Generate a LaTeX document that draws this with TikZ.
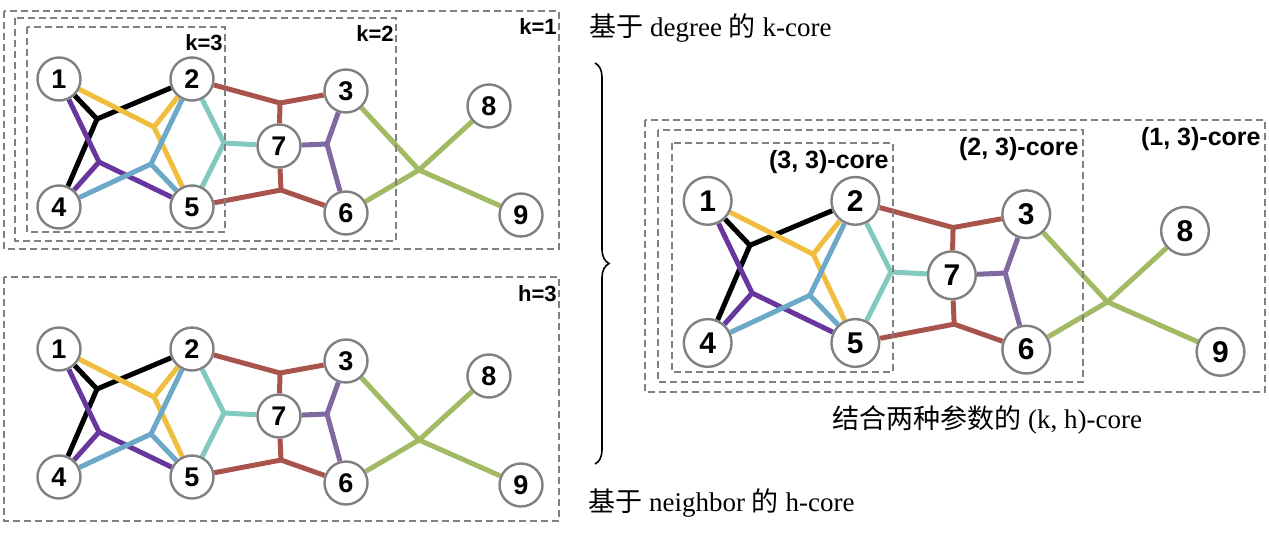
\documentclass[tikz,border=0pt]{standalone}
\usepackage{fontspec}
\setmainfont{Liberation Serif}
\newfontfamily\cjk{Noto Sans CJK SC}
\newfontfamily\arial{Liberation Sans}
\usetikzlibrary{backgrounds,decorations.pathreplacing}
\definecolor{vgray}{RGB}{128,128,128}
\definecolor{hyellow}{RGB}{240,190,62}
\definecolor{hpurple}{RGB}{104,54,156}
\definecolor{hblue}{RGB}{108,168,200}
\definecolor{hteal}{RGB}{130,202,190}
\definecolor{hred}{RGB}{168,84,76}
\definecolor{hviolet}{RGB}{128,104,160}
\definecolor{hgreen}{RGB}{162,186,100}
\tikzset{
  vtx/.style={circle,draw=vgray,line width=1.2pt,fill=white,minimum size=21.5pt,inner sep=0pt,
    font=\arial\bfseries\fontsize{13.5}{12}\selectfont},
  hedge/.style={line width=2.5pt,draw=#1},
  corebox/.style={draw=vgray,line width=0.9pt,dash pattern=on 3.5pt off 2pt},
  corelab/.style={anchor=east,inner sep=0pt,font=\arial\bfseries\fontsize{#1}{#1}\selectfont},
  corelab/.default=11,
  caption/.style={anchor=west,inner sep=0pt,font=\fontsize{13.5}{16}\selectfont},
  bracket/.style={decorate,decoration={brace,amplitude=7pt},line width=0.8pt},
}
% one copy of the hypergraph, node names get prefix #1
\newcommand{\hgraph}[1]{%
  \foreach \n/\x/\y in {1/59/79,2/192/79,3/346/91,4/59/207,5/192/207,
                        6/346/213,7/279/146,8/489/106,9/521/215}
    \node[vtx] (#1\n) at (\x,\y) {\n};
  \foreach \h/\x/\y in {k/97/119,y/154/127,p/99/162,b/151/164,t/224/143,
                        r/280/103,s/281/190,v/327/144,g/419/170}
    \coordinate (#1h\h) at (\x,\y);
  \begin{scope}[on background layer]
    \foreach \c/\h/\ends in {black/k/{1,2,4},hyellow/y/{1,2,5},hpurple/p/{1,4,5},
                             hblue/b/{2,4,5},hteal/t/{2,5,7},hred/r/{2,3,7},
                             hred/s/{5,6,7},hviolet/v/{3,6,7},hgreen/g/{3,6,8,9}}
      \foreach \e in \ends
        \draw[hedge=\c] (#1h\h) -- (#1\e);
  \end{scope}
}

\begin{document}
\begin{tikzpicture}[x=0.5pt,y=-0.5pt]
  \useasboundingbox (0,0) rectangle (1269,536);

  % k-core
  \foreach \xa/\ya/\xb/\yb/\t [count=\i] in {4/11/559/249/k=1,15/18/396/241/k=2,27/27/225/232/k=3}{
    \draw[corebox] (\xa,\ya) rectangle (\xb,\yb);
    \node[corelab] (lk\i) at (\xb-2,\ya+16) {\t};
  }
  \hgraph{a}

  % h-core
  \draw[corebox] (4,277) rectangle (559,521);
  \node[corelab] (lh) at (557,294) {h=3};
  \begin{scope}[shift={(0,270)}]
    \hgraph{b}
  \end{scope}

  % (k,h)-core
  \foreach \xa/\ya/\xb/\yb/\t [count=\i] in {645/120/1265/392/{(1, 3)-core},
                                             658/130/1083/382/{(2, 3)-core},
                                             672/143/893/372/{(3, 3)-core}}{
    \draw[corebox] (\xa,\ya) rectangle (\xb,\yb);
    \node[corelab=12.5] (lkh\i) at (\xb-4,\ya+19) {\t};
  }
  \begin{scope}[shift={(642.2,113.2)},scale=1.11,transform shape]
    \hgraph{c}
  \end{scope}

  \coordinate (btop) at (595,63);
  \coordinate (bbot) at (595,464);
  \draw[bracket] (btop) -- (bbot);

  \node[caption] (capk) at (589,28) {{\cjk 基于} degree {\cjk 的} k-core};
  \node[caption] (caph) at (588,503) {{\cjk 基于} neighbor {\cjk 的} h-core};
  \node[caption] (capkh) at (832,420) {{\cjk 结合两种参数的} (k, h)-core};
\end{tikzpicture}
\end{document}
